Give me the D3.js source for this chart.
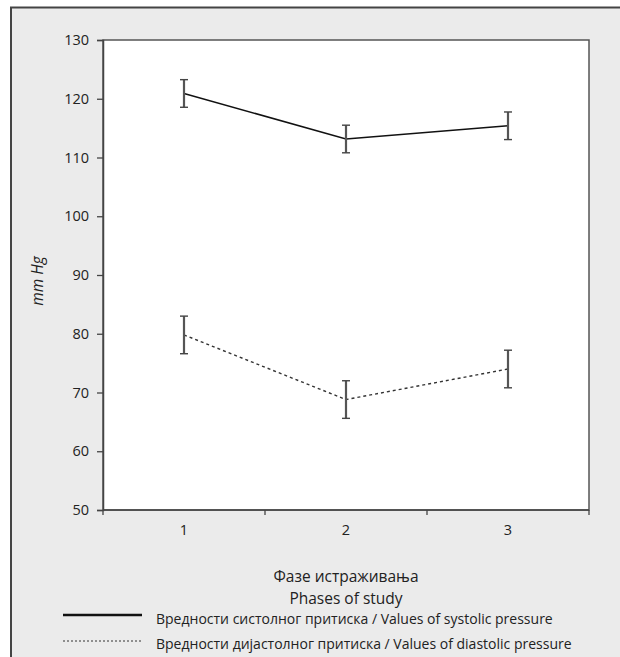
<!DOCTYPE html>
<html>
<head>
<meta charset="utf-8">
<script src="https://cdn.jsdelivr.net/npm/d3@7"></script>
<style>
  html, body { margin: 0; padding: 0; background: #fff; }
  svg text { font-family: "Open Sans", "Noto Sans", sans-serif; fill: #222; }
</style>
</head>
<body>
<div id="chart"></div>
<script>
// phases of study
const phases = ["1", "2", "3"];
// mean values (mm Hg) and error bar half-widths
const systolic = [120.9, 113.15, 115.4];
const systolicErr = [2.35, 2.35, 2.35];
const diastolic = [79.8, 68.8, 74.0];
const diastolicErr = [3.2, 3.2, 3.2];
const yTicks = [50, 60, 70, 80, 90, 100, 110, 120, 130];

const legendLabels = [
    "Вредности систолног притиска / Values of systolic pressure",
    "Вредности дијастолног притиска / Values of diastolic pressure"
];

function drawChart(selector = "#chart") {
    const width = 620;
    const height = 657;
    const margin = { top: 40, right: 31, bottom: 147, left: 103 };

    const svg = d3.select(selector)
        .append("svg")
        .attr("width", width)
        .attr("height", height);

    // gray frame
    svg.append("rect")
        .attr("x", 11)
        .attr("y", 7.5)
        .attr("width", 700)
        .attr("height", 700)
        .attr("fill", "#ebebeb")
        .attr("stroke", "#444")
        .attr("stroke-width", 2);

    const x = d3.scaleBand()
        .domain(phases)
        .range([margin.left, width - margin.right]);

    const y = d3.scaleLinear()
        .domain([50, 130])
        .range([height - margin.bottom, margin.top]);

    // plot area
    svg.append("rect")
        .attr("x", margin.left)
        .attr("y", margin.top)
        .attr("width", width - margin.right - margin.left)
        .attr("height", height - margin.bottom - margin.top)
        .attr("fill", "#fff")
        .attr("stroke", "#555")
        .attr("stroke-width", 1.5);

    const yAxis = svg.append("g")
        .attr("transform", `translate(${margin.left},0)`)
        .call(d3.axisLeft(y).tickValues(yTicks).tickSize(6).tickPadding(8));
    yAxis.select(".domain").attr("stroke", "#444").attr("stroke-width", 1.5);
    yAxis.selectAll(".tick line").attr("stroke", "#444").attr("stroke-width", 1.3);
    yAxis.selectAll(".tick text")
        .style("font-size", "14.5px")
        .attr("fill", "#222");

    // x axis: ticks on band edges, labels at band centers
    const xg = svg.append("g")
        .attr("transform", `translate(0,${height - margin.bottom})`);
    xg.append("line")
        .attr("x1", margin.left)
        .attr("x2", width - margin.right)
        .attr("stroke", "#444")
        .attr("stroke-width", 1.5);
    const edges = phases.map(p => x(p)).concat([x(phases[phases.length - 1]) + x.bandwidth()]);
    xg.selectAll(".edge")
        .data(edges)
        .join("line")
        .attr("class", "edge")
        .attr("x1", d => d)
        .attr("x2", d => d)
        .attr("y1", 0)
        .attr("y2", 5)
        .attr("stroke", "#444")
        .attr("stroke-width", 1.3);
    xg.selectAll(".xlabel")
        .data(phases)
        .join("text")
        .attr("class", "xlabel")
        .attr("x", d => x(d) + x.bandwidth() / 2)
        .attr("y", 25)
        .attr("text-anchor", "middle")
        .style("font-size", "14.5px")
        .text(d => d);

    // axis titles
    const midX = (margin.left + width - margin.right) / 2;
    svg.append("text")
        .attr("x", midX)
        .attr("y", 582)
        .attr("text-anchor", "middle")
        .style("font-size", "15.5px")
        .text("Фазе истраживања");
    svg.append("text")
        .attr("x", midX)
        .attr("y", 603.5)
        .attr("text-anchor", "middle")
        .style("font-size", "15.5px")
        .text("Phases of study");

    svg.append("text")
        .attr("transform", "rotate(-90)")
        .attr("x", -281)
        .attr("y", 43)
        .attr("text-anchor", "middle")
        .style("font-size", "15.5px")
        .style("font-style", "italic")
        .text("mm Hg");

    const cx = d => x(d) + x.bandwidth() / 2;

    const series = [
        { values: systolic, err: systolicErr, dash: null, width: 1.5, color: "#111" },
        { values: diastolic, err: diastolicErr, dash: "3,3", width: 1.4, color: "#333" }
    ];

    series.forEach(s => {
        const pts = phases.map((p, i) => ({ p, v: s.values[i], e: s.err[i] }));

        svg.append("path")
            .datum(pts)
            .attr("fill", "none")
            .attr("stroke", s.color)
            .attr("stroke-width", s.width)
            .attr("stroke-dasharray", s.dash)
            .attr("d", d3.line().x(d => cx(d.p)).y(d => y(d.v)));

        const eb = svg.append("g");
        eb.selectAll(".bar")
            .data(pts)
            .join("line")
            .attr("x1", d => cx(d.p))
            .attr("x2", d => cx(d.p))
            .attr("y1", d => y(d.v + d.e))
            .attr("y2", d => y(d.v - d.e))
            .attr("stroke", "#555")
            .attr("stroke-width", 2.2);
        eb.selectAll(".capTop")
            .data(pts)
            .join("line")
            .attr("x1", d => cx(d.p) - 4)
            .attr("x2", d => cx(d.p) + 4)
            .attr("y1", d => y(d.v + d.e))
            .attr("y2", d => y(d.v + d.e))
            .attr("stroke", "#444")
            .attr("stroke-width", 1.4);
        eb.selectAll(".capBot")
            .data(pts)
            .join("line")
            .attr("x1", d => cx(d.p) - 4)
            .attr("x2", d => cx(d.p) + 4)
            .attr("y1", d => y(d.v - d.e))
            .attr("y2", d => y(d.v - d.e))
            .attr("stroke", "#444")
            .attr("stroke-width", 1.4);
    });

    // legend
    const legend = svg.append("g").attr("transform", "translate(63,615)");
    legend.append("line")
        .attr("x1", 0).attr("x2", 79)
        .attr("y1", 0).attr("y2", 0)
        .attr("stroke", "#111")
        .attr("stroke-width", 2.5);
    legend.append("line")
        .attr("x1", 0).attr("x2", 79)
        .attr("y1", 26).attr("y2", 26)
        .attr("stroke", "#333")
        .attr("stroke-width", 1)
        .attr("stroke-dasharray", "2,2");
    legend.selectAll(".lt")
        .data(legendLabels)
        .join("text")
        .attr("class", "lt")
        .attr("x", 93)
        .attr("y", (d, i) => 9 + i * 25)
        .style("font-size", "14px")
        .text(d => d);
}

drawChart();
</script>
</body>
</html>
